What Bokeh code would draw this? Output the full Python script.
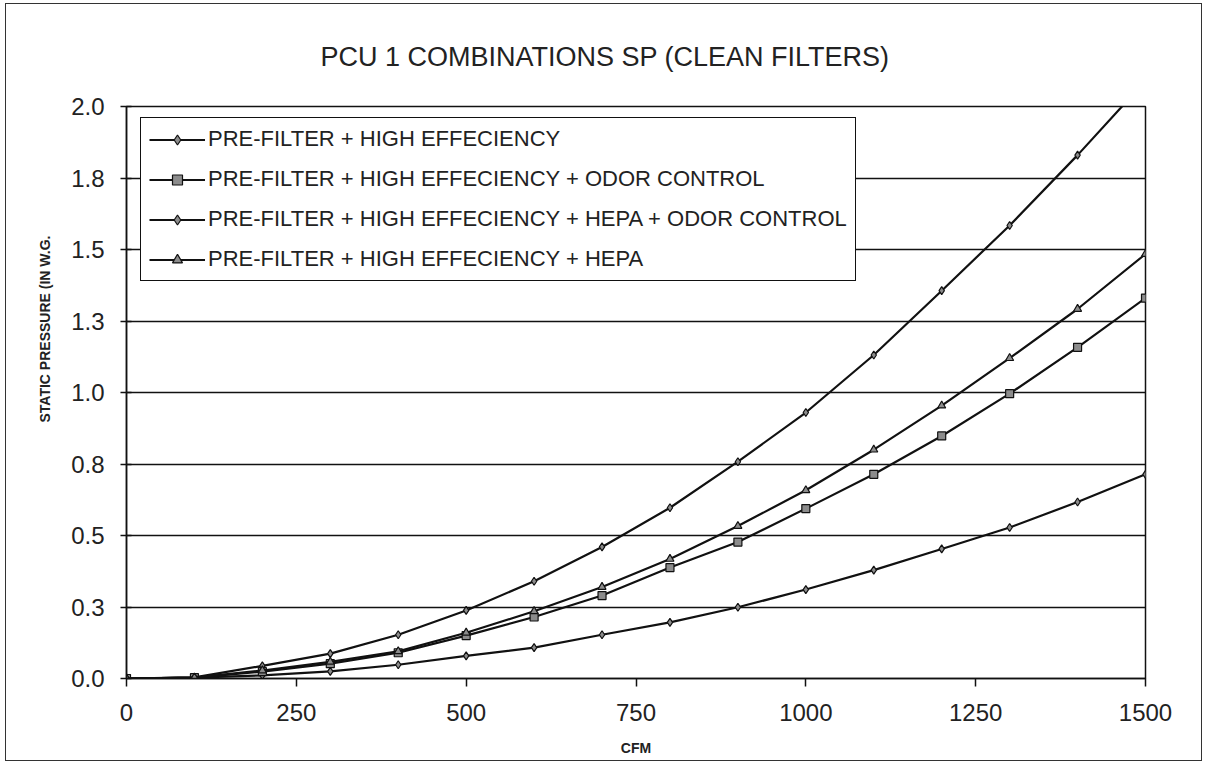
from bokeh.plotting import figure
from bokeh.models import FixedTicker, Legend, LegendItem, Title
from bokeh.embed import file_html
from bokeh.resources import INLINE

# ---------------- data ----------------
CFM = [0, 100, 200, 300, 400, 500, 600, 700, 800, 900, 1000, 1100, 1200, 1300, 1400, 1500]
PF_HE = [0.000, 0.003, 0.011, 0.025, 0.048, 0.079, 0.108, 0.153, 0.196, 0.249, 0.311, 0.379, 0.453, 0.528, 0.617, 0.714]
PF_HE_ODOR = [0.000, 0.003, 0.024, 0.052, 0.090, 0.150, 0.215, 0.290, 0.388, 0.477, 0.594, 0.714, 0.848, 0.996, 1.158, 1.330]
PF_HE_HEPA_ODOR = [0.000, 0.004, 0.044, 0.087, 0.153, 0.238, 0.340, 0.460, 0.597, 0.758, 0.930, 1.131, 1.356, 1.584, 1.830, 2.090]
PF_HE_HEPA = [0.000, 0.003, 0.028, 0.058, 0.095, 0.160, 0.235, 0.320, 0.418, 0.533, 0.658, 0.800, 0.954, 1.120, 1.292, 1.484]

SERIES_NAMES = [
    "PRE-FILTER + HIGH EFFECIENCY",
    "PRE-FILTER + HIGH EFFECIENCY + ODOR CONTROL",
    "PRE-FILTER + HIGH EFFECIENCY + HEPA + ODOR CONTROL",
    "PRE-FILTER + HIGH EFFECIENCY + HEPA",
]
SERIES_VALUES = [PF_HE, PF_HE_ODOR, PF_HE_HEPA_ODOR, PF_HE_HEPA]
SERIES_MARKERS = ["diamond", "square", "diamond", "triangle"]

X_TICKS = [0, 250, 500, 750, 1000, 1250, 1500]
Y_TICKS = [0.0, 0.25, 0.5, 0.75, 1.0, 1.25, 1.5, 1.75, 2.0]
Y_TICK_LABELS = ["0.0", "0.3", "0.5", "0.8", "1.0", "1.3", "1.5", "1.8", "2.0"]

TITLE = "PCU 1 COMBINATIONS SP (CLEAN FILTERS)"
X_LABEL = "CFM"
Y_LABEL = "STATIC PRESSURE (IN W.G."

# ---------------- layout ----------------
FONT = "Liberation Sans"
OX, OY = 6, 4                # page position of figure content (inside css border)
W, H = 1197, 758
FL, FR, FT, FB = 126, 1145, 106, 678   # frame edges in page px

p = figure(
    width=W, height=H,
    x_range=(0, 1500), y_range=(0, 2.0),
    output_backend="svg", toolbar_location=None,
    min_border_left=FL - OX, min_border_right=(OX + W) - FR,
    min_border_top=FT - OY, min_border_bottom=(OY + H) - FB,
)
p.styles = {"border": "1px solid #333", "margin": f"{OY - 1}px 0 0 {OX - 1}px"}
p.background_fill_color = "white"
p.border_fill_color = "white"
p.outline_line_color = "#111"
p.outline_line_width = 1.5

# title, left-aligned with offset so it sits where the reference has it
p.title = Title(text=TITLE, align="left", offset=320 - FL, standoff=70,
                text_font=FONT, text_font_size="27px", text_font_style="normal",
                text_color="#222")

# y-axis title as a left-side title (lets it be shifted along the axis)
p.add_layout(Title(text=Y_LABEL, align="left", offset=FB - 422, standoff=32,
                   text_font=FONT, text_font_size="14px", text_font_style="bold",
                   text_color="#222"), "left")

# axes
p.xaxis.ticker = FixedTicker(ticks=X_TICKS)
p.yaxis.ticker = FixedTicker(ticks=Y_TICKS)
p.yaxis.major_label_overrides = {t: s for t, s in zip(Y_TICKS, Y_TICK_LABELS)}
for ax in (p.xaxis[0], p.yaxis[0]):
    ax.axis_line_color = "#111"
    ax.axis_line_width = 1.5
    ax.major_tick_line_color = "#111"
    ax.major_tick_line_width = 1.5
    ax.minor_tick_line_color = None
    ax.major_label_text_font = FONT
    ax.major_label_text_font_size = "24px"
    ax.major_label_text_color = "#222"
p.xaxis.major_tick_in = 0
p.xaxis.major_tick_out = 8
p.xaxis.major_label_standoff = 17
p.yaxis.major_tick_in = 5
p.yaxis.major_tick_out = 6
p.yaxis.major_label_standoff = 16

p.xaxis.axis_label = X_LABEL
p.xaxis.axis_label_text_font = FONT
p.xaxis.axis_label_text_font_size = "14px"
p.xaxis.axis_label_text_font_style = "bold"
p.xaxis.axis_label_text_color = "#222"
p.xaxis.axis_label_standoff = 16

# grid
p.xgrid.grid_line_color = None
p.ygrid.ticker = FixedTicker(ticks=Y_TICKS)
p.ygrid.grid_line_color = "#111"
p.ygrid.grid_line_width = 1.4

# series
items = []
for name, ys, mk in zip(SERIES_NAMES, SERIES_VALUES, SERIES_MARKERS):
    ln = p.line(CFM, ys, line_color="#111", line_width=2.2)
    sc = p.scatter(CFM, ys, marker=mk, size=8, line_color="#111", line_width=1.2,
                   fill_color="#8c8c8c")
    items.append(LegendItem(label=name, renderers=[ln, sc]))

legend = Legend(
    items=items,
    location=(140 - FL, FB - 281),
    orientation="vertical",
    label_text_font=FONT,
    label_text_font_size="22px",
    label_text_color="#222",
    glyph_width=56, glyph_height=25, label_height=25,
    label_standoff=3, spacing=14, padding=8, margin=0,
    border_line_color="#111", border_line_width=1.5, border_line_alpha=1.0,
    background_fill_color="white", background_fill_alpha=1.0,
)
p.add_layout(legend)

open("out.html", "w").write(file_html(p, INLINE))
